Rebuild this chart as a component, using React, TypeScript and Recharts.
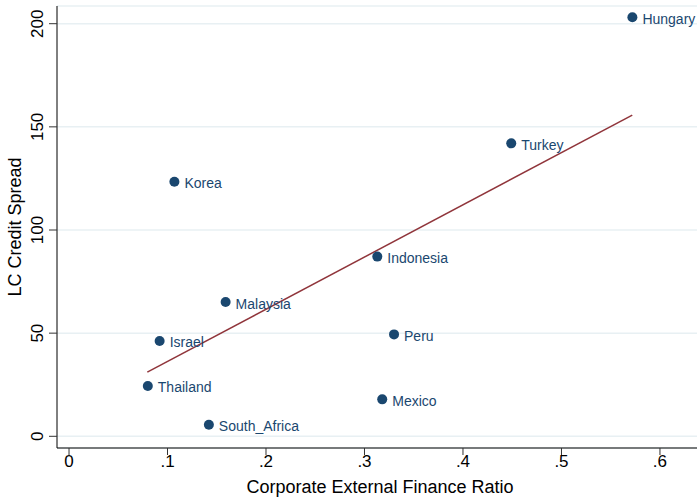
import React from 'react';
import { ScatterChart, Scatter, XAxis, YAxis, CartesianGrid } from 'recharts';

const countries = ['Hungary', 'Turkey', 'Korea', 'Indonesia', 'Malaysia', 'Peru', 'Israel', 'Thailand', 'Mexico', 'South_Africa'];
const ratio = [0.572, 0.449, 0.107, 0.313, 0.159, 0.330, 0.092, 0.080, 0.318, 0.142];
const spread = [203.1, 142.0, 123.4, 87.1, 65.1, 49.4, 46.2, 24.4, 17.9, 5.6];
const fitRatio = [0.0795, 0.5719];
const fitSpread = [31.1, 155.7];
const xTicks = [0, 0.1, 0.2, 0.3, 0.4, 0.5, 0.6];
const xTickLabels = ['0', '.1', '.2', '.3', '.4', '.5', '.6'];
const yTicks = [0, 50, 100, 150, 200];
const xTitle = 'Corporate External Finance Ratio';
const yTitle = 'LC Credit Spread';

const points = countries.map((name, i) => ({ name, x: ratio[i], y: spread[i] }));
const fit = fitRatio.map((x, i) => ({ x, y: fitSpread[i] }));

const FONT = '"Liberation Sans", Arial, Helvetica, sans-serif';
const NAVY = '#1a476f';
const MAROON = '#90353b';

const PointShape = (props: any) => {
  const { cx, cy, payload } = props;
  return (
    <g>
      <circle cx={cx} cy={cy} r={5} fill={NAVY} />
      <text x={cx + 10} y={cy + 6.5} fontSize={14} fill={NAVY} fontFamily={FONT}>
        {payload.name}
      </text>
    </g>
  );
};

const YTick = (props: any) => {
  const { x, y, payload } = props;
  return (
    <text
      x={x}
      y={y}
      transform={`rotate(-90, ${x}, ${y})`}
      textAnchor="middle"
      fontSize={17}
      fill="#000"
      fontFamily={FONT}
    >
      {payload.value}
    </text>
  );
};

const XTick = (props: any) => {
  const { x, y, payload } = props;
  const idx = xTicks.indexOf(payload.value);
  return (
    <text x={x} y={y + 12} textAnchor="middle" fontSize={17} fill="#000" fontFamily={FONT}>
      {idx >= 0 ? xTickLabels[idx] : payload.value}
    </text>
  );
};

const YTitle = (props: any) => {
  const vb = props.viewBox || {};
  const cy = (vb.y || 0) + (vb.height || 0) / 2;
  const x = 21;
  return (
    <text
      x={x}
      y={cy}
      transform={`rotate(-90, ${x}, ${cy})`}
      textAnchor="middle"
      fontSize={18}
      fill="#000"
      fontFamily={FONT}
    >
      {yTitle}
    </text>
  );
};

const XTitle = (props: any) => {
  const vb = props.viewBox || {};
  const cx = (vb.x || 0) + (vb.width || 0) / 2 + 3;
  return (
    <text x={cx} y={493} textAnchor="middle" fontSize={18} fill="#000" fontFamily={FONT}>
      {xTitle}
    </text>
  );
};

export default function App() {
  return (
    <div style={{ position: 'absolute', left: 0, top: 0, fontFamily: FONT, background: '#fff' }}>
      <ScatterChart width={697} height={497} margin={{ top: 6, right: 0, bottom: 0, left: 0 }}>
        <CartesianGrid vertical={false} stroke="#e8f0f3" strokeWidth={1.5} />
        <XAxis
          type="number"
          dataKey="x"
          domain={[-0.0122, 0.6376]}
          ticks={xTicks}
          interval={0}
          height={49}
          allowDataOverflow
          axisLine={{ stroke: '#000', strokeWidth: 1 }}
          tickLine={{ stroke: '#333' }}
          tickSize={7}
          tickMargin={0}
          tick={<XTick />}
          label={<XTitle />}
        />
        <YAxis
          type="number"
          dataKey="y"
          domain={[-5.67, 208.58]}
          ticks={yTicks}
          interval={0}
          width={57}
          allowDataOverflow
          axisLine={{ stroke: '#000', strokeWidth: 1 }}
          tickLine={{ stroke: '#333' }}
          tickSize={8}
          tickMargin={6}
          tick={<YTick />}
          label={<YTitle />}
        />
        <Scatter
          data={fit}
          line={{ stroke: MAROON, strokeWidth: 1.5 }}
          shape={() => <g />}
          isAnimationActive={false}
        />
        <Scatter data={points} shape={<PointShape />} isAnimationActive={false} />
      </ScatterChart>
    </div>
  );
}
